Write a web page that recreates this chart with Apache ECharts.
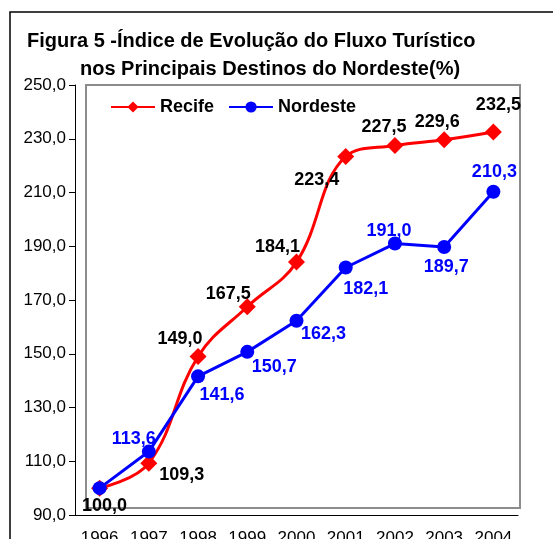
<!DOCTYPE html>
<html>
<head>
<meta charset="utf-8">
<script src="https://cdn.jsdelivr.net/npm/echarts@6/dist/echarts.min.js"></script>
<style>
  html, body { margin: 0; padding: 0; background: #fff; }
  #chart { width: 553px; height: 539px; }
</style>
</head>
<body>
<div id="chart"></div>
<script>
  // dados
  var anos = ['1996', '1997', '1998', '1999', '2000', '2001', '2002', '2003', '2004'];
  var recife = [100.0, 109.3, 149.0, 167.5, 184.1, 223.4, 227.5, 229.6, 232.5];
  var nordeste = [100.0, 113.6, 141.6, 150.7, 162.3, 182.1, 191.0, 189.7, 210.3];

  // deslocamento dos rótulos (px) em relação ao marcador
  var offRecife = [[5, 18], [33, 12], [-18, -17], [-19, -13], [-19, -15], [-29, 24], [-11, -18], [-7, -18], [5, -27]];
  var offNordeste = [null, [-15, -13], [24, 19], [27, 15], [27, 13], [20, 22], [-6, -13], [2, 20], [1, -20]];

  function fmt(v) {
    return v.toFixed(1).replace('.', ',');
  }

  var chart = echarts.init(document.getElementById('chart'));
  var font = 'Liberation Sans, Arial, sans-serif';

  var option = {
    animation: false,
    backgroundColor: '#fff',
    textStyle: { fontFamily: font },
    title: [
      {
        text: 'Figura 5 -Índice de Evolução do Fluxo Turístico',
        left: 22, top: 26,
        textStyle: { fontSize: 20, fontWeight: 'bold', color: '#000', fontFamily: font }
      },
      {
        text: 'nos Principais Destinos do Nordeste(%)',
        left: 75, top: 54,
        textStyle: { fontSize: 20, fontWeight: 'bold', color: '#000', fontFamily: font }
      }
    ],
    legend: {
      left: 105, top: 93,
      itemWidth: 44, itemHeight: 14, itemGap: 14,
      textStyle: { fontSize: 18, fontWeight: 'bold', color: '#000', fontFamily: font },
      data: ['Recife', 'Nordeste']
    },
    graphic: [
      { type: 'rect', shape: { x: 10, y: 12, width: 700, height: 700 },
        style: { fill: null, stroke: '#000', lineWidth: 1.5 }, silent: true, z: -1 },
      { type: 'rect', shape: { x: 86, y: 85, width: 434, height: 423 },
        style: { fill: null, stroke: '#8c8c8c', lineWidth: 2 }, silent: true, z: -1 }
    ],
    grid: { left: 75, right: 35, top: 85, bottom: 24, outerBoundsMode: 'none' },
    xAxis: {
      type: 'category',
      data: anos,
      boundaryGap: true,
      axisLine: { lineStyle: { color: '#000', width: 1 } },
      axisTick: { length: 5, lineStyle: { color: '#000' } },
      axisLabel: { fontSize: 17, color: '#000', margin: 15, fontFamily: font }
    },
    yAxis: {
      type: 'value',
      min: 90, max: 250, interval: 20,
      axisLine: { show: true, lineStyle: { color: '#000', width: 1 } },
      axisTick: { show: true, length: 6, lineStyle: { color: '#000' } },
      splitLine: { show: false },
      axisLabel: { fontSize: 17, color: '#000', margin: 9, fontFamily: font, formatter: fmt }
    },
    series: [
      {
        name: 'Recife',
        type: 'line',
        smooth: 0.4,
        symbol: 'diamond',
        symbolSize: 17,
        lineStyle: { color: '#ff0000', width: 3 },
        itemStyle: { color: '#ff0000' },
        label: {
          show: true, position: 'inside',
          fontSize: 18, fontWeight: 'bold', color: '#000', fontFamily: font,
          formatter: function (p) { return fmt(p.value); }
        },
        data: recife.map(function (v, i) {
          return { value: v, label: { offset: offRecife[i] } };
        }),
        z: 2
      },
      {
        name: 'Nordeste',
        type: 'line',
        symbol: 'circle',
        symbolSize: 14,
        lineStyle: { color: '#0000ff', width: 3 },
        itemStyle: { color: '#0000ff' },
        label: {
          show: true, position: 'inside',
          fontSize: 18, fontWeight: 'bold', color: '#0000ff', fontFamily: font,
          formatter: function (p) { return fmt(p.value); }
        },
        data: nordeste.map(function (v, i) {
          if (!offNordeste[i]) return { value: v, label: { show: false } };
          return { value: v, label: { offset: offNordeste[i] } };
        }),
        z: 3
      }
    ]
  };

  chart.setOption(option);
</script>
</body>
</html>
